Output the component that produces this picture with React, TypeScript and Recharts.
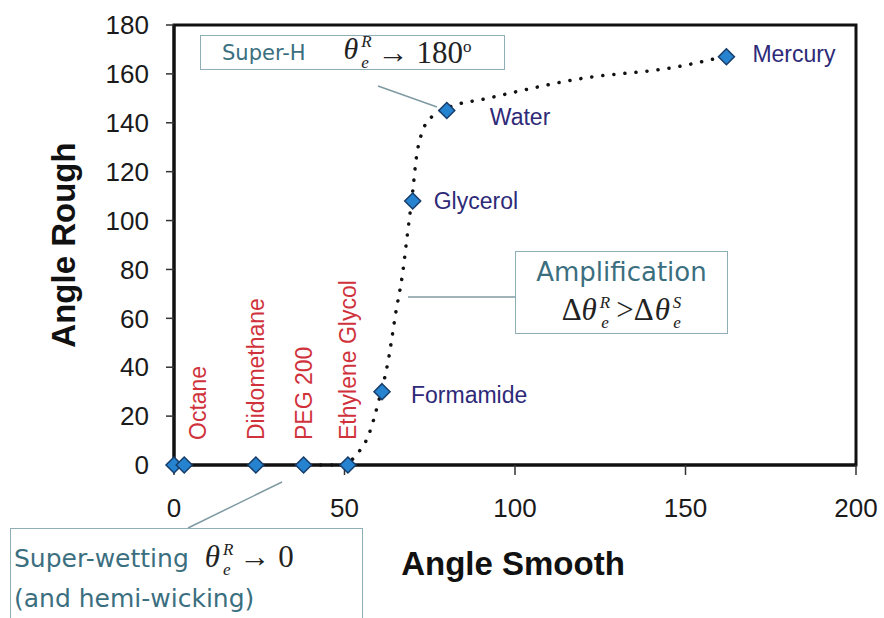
import React from "react"
import { ComposedChart, Line, Scatter, XAxis, YAxis, ReferenceArea } from "recharts"

// measured liquids (smooth vs rough contact angle, degrees)
const liquids = ["", "Octane", "Diidomethane", "PEG 200", "Ethylene Glycol", "Formamide", "Glycerol", "Water", "Mercury"]
const smoothAngle = [0, 3, 24, 38, 51, 61, 70, 80, 162]
const roughAngle = [0, 0, 0, 0, 0, 30, 108, 145, 167]

// dotted guide curve
const fitSmooth = [43, 48, 52, 54, 57, 60, 63, 65, 67, 68.5, 70, 71, 73, 76, 80, 92, 119, 148, 158]
const fitRough = [0, 0, 2, 5, 12, 26, 44, 62, 78, 95, 112, 125, 137, 143, 146, 150, 158, 163, 166]

const xTicks = [0, 50, 100, 150, 200]
const yTicks = [0, 20, 40, 60, 80, 100, 120, 140, 160, 180]

const points = smoothAngle.map((x, i) => ({ x, y: roughAngle[i], name: liquids[i] }))
const fit = fitSmooth.map((x, i) => ({ x, y: fitRough[i] }))

const sans = "Arial, 'Liberation Sans', sans-serif"
const boxFont = "'DejaVu Sans', Verdana, sans-serif"
const serif = "'Liberation Serif', 'Times New Roman', serif"
const teal = "#3b6f80"
const boxBorder = "#8fadb4"

// label placement relative to each marker
const spreadLabels: Record<string, number> = { Octane: 14, Diidomethane: 0, "PEG 200": 0, "Ethylene Glycol": 0 }
const sideLabels: Record<string, [number, number]> = {
  Formamide: [29, 3],
  Glycerol: [21, 0],
  Water: [43, 6],
  Mercury: [26, -3],
}

const Diamond = (props: any) => {
  const { cx, cy, payload } = props
  const r = 8
  const name: string = payload?.name ?? ""
  let label = null
  if (name in spreadLabels) {
    const lx = cx + spreadLabels[name]
    const ly = cy - 25
    label = (
      <text x={lx} y={ly} dy="0.36em" transform={`rotate(-90 ${lx} ${ly})`} fontSize={23} fill="#d0323c" fontFamily={sans}>
        {name}
      </text>
    )
  } else if (name in sideLabels) {
    const [dx, dy] = sideLabels[name]
    label = (
      <text x={cx + dx} y={cy + dy} dy="0.35em" fontSize={23} fill="#2e2a78" fontFamily={sans}>
        {name}
      </text>
    )
  }
  return (
    <g>
      <path
        d={`M${cx},${cy - r} L${cx + r},${cy} L${cx},${cy + r} L${cx - r},${cy} Z`}
        fill="#2583cf"
        stroke="#173d6b"
        strokeWidth={1.5}
      />
      {label}
    </g>
  )
}

const Theta = ({ sup, size }: { sup: string; size: number }) => (
  <span style={{ fontFamily: serif, fontSize: size, color: "#222", whiteSpace: "nowrap" }}>
    <i>θ</i>
    <span
      style={{
        display: "inline-flex",
        flexDirection: "column",
        fontSize: Math.round(size * 0.55),
        lineHeight: 1.18,
        verticalAlign: "middle",
        fontStyle: "italic",
        marginLeft: 3,
      }}
    >
      <span>{sup}</span>
      <span>e</span>
    </span>
  </span>
)

export default function App() {
  return (
    <div style={{ position: "absolute", left: 0, top: 0, width: 884, height: 618, overflow: "hidden", background: "#fff" }}>
      <ComposedChart width={884} height={618} data={points} margin={{ top: 25, right: 28, left: 114, bottom: 93 }}>
        <ReferenceArea x1={0} x2={200} y1={0} y2={180} fill="none" stroke="#111" strokeWidth={3} />
        <XAxis
          type="number"
          dataKey="x"
          domain={[0, 200]}
          ticks={xTicks}
          height={60}
          axisLine={{ stroke: "#111", strokeWidth: 3 }}
          tickLine={{ stroke: "#333", strokeWidth: 1.5 }}
          tickSize={10}
          tickMargin={24}
          tick={{ fontSize: 26, fill: "#1a1a1a", fontFamily: sans }}
        />
        <YAxis
          type="number"
          dataKey="y"
          domain={[0, 180]}
          ticks={yTicks}
          width={60}
          axisLine={{ stroke: "#111", strokeWidth: 3 }}
          tickLine={{ stroke: "#333", strokeWidth: 1.5 }}
          tickSize={8}
          tickMargin={17}
          tick={{ fontSize: 26, fill: "#1a1a1a", fontFamily: sans }}
        />
        <Line
          data={fit}
          dataKey="y"
          type="monotone"
          stroke="#111"
          strokeWidth={3.5}
          strokeDasharray="0.1 11"
          strokeLinecap="round"
          dot={false}
          activeDot={false}
          isAnimationActive={false}
        />
        <Scatter data={points} dataKey="y" shape={<Diamond />} isAnimationActive={false} />
      </ComposedChart>

      {/* axis titles */}
      <div
        style={{
          position: "absolute",
          left: 64,
          top: 245,
          transform: "translate(-50%, -50%) rotate(-90deg)",
          fontFamily: sans,
          fontWeight: "bold",
          fontSize: 33,
          color: "#111",
          whiteSpace: "nowrap",
        }}
      >
        Angle Rough
      </div>
      <div
        style={{
          position: "absolute",
          left: 513,
          top: 564,
          transform: "translate(-50%, -50%)",
          fontFamily: sans,
          fontWeight: "bold",
          fontSize: 33,
          color: "#111",
          whiteSpace: "nowrap",
        }}
      >
        Angle Smooth
      </div>

      {/* leader lines */}
      <svg width={884} height={618} style={{ position: "absolute", left: 0, top: 0, pointerEvents: "none" }}>
        <line x1={378} y1={86} x2={437} y2={107} stroke="#7f9aa2" strokeWidth={1.5} />
        <line x1={515} y1={297} x2={408} y2={297} stroke="#7f9aa2" strokeWidth={1.5} />
        <line x1={188} y1={528} x2={282} y2={482} stroke="#7f9aa2" strokeWidth={1.5} />
      </svg>

      {/* annotation boxes */}
      <div
        style={{
          position: "absolute",
          left: 200,
          top: 35,
          width: 305,
          height: 35,
          boxSizing: "border-box",
          border: `1.5px solid ${boxBorder}`,
          background: "#fff",
          display: "flex",
          alignItems: "center",
          paddingLeft: 21,
          whiteSpace: "nowrap",
        }}
      >
        <span style={{ fontFamily: boxFont, fontSize: 21, color: teal, marginRight: 38 }}>Super-H</span>
        <Theta sup="R" size={30} />
        <span style={{ fontFamily: serif, fontSize: 31, color: "#222", marginLeft: 6 }}>
          → 180<sup style={{ fontSize: 17 }}>o</sup>
        </span>
      </div>

      <div
        style={{
          position: "absolute",
          left: 515,
          top: 251,
          width: 213,
          height: 83,
          boxSizing: "border-box",
          border: `1.5px solid ${boxBorder}`,
          background: "#fff",
          textAlign: "center",
        }}
      >
        <div style={{ fontFamily: boxFont, fontSize: 26, color: teal, lineHeight: "36px", marginTop: 2 }}>Amplification</div>
        <div style={{ lineHeight: "40px", whiteSpace: "nowrap" }}>
          <span style={{ fontFamily: serif, fontSize: 31, color: "#222" }}>Δ</span>
          <Theta sup="R" size={31} />
          <span style={{ fontFamily: serif, fontSize: 31, color: "#222", margin: "0 1px 0 6px" }}>{">"}Δ</span>
          <Theta sup="S" size={31} />
        </div>
      </div>

      <div
        style={{
          position: "absolute",
          left: 10,
          top: 528,
          width: 353,
          height: 110,
          boxSizing: "border-box",
          border: `1.5px solid ${boxBorder}`,
          background: "#fff",
          paddingLeft: 3,
        }}
      >
        <div style={{ whiteSpace: "nowrap", lineHeight: "40px", marginTop: 8 }}>
          <span style={{ fontFamily: boxFont, fontSize: 25, color: teal, marginRight: 16 }}>Super-wetting</span>
          <Theta sup="R" size={31} />
          <span style={{ fontFamily: serif, fontSize: 31, color: "#222", marginLeft: 6 }}>→ 0</span>
        </div>
        <div style={{ fontFamily: boxFont, fontSize: 25, color: teal, lineHeight: "34px" }}>(and hemi-wicking)</div>
      </div>
    </div>
  )
}
